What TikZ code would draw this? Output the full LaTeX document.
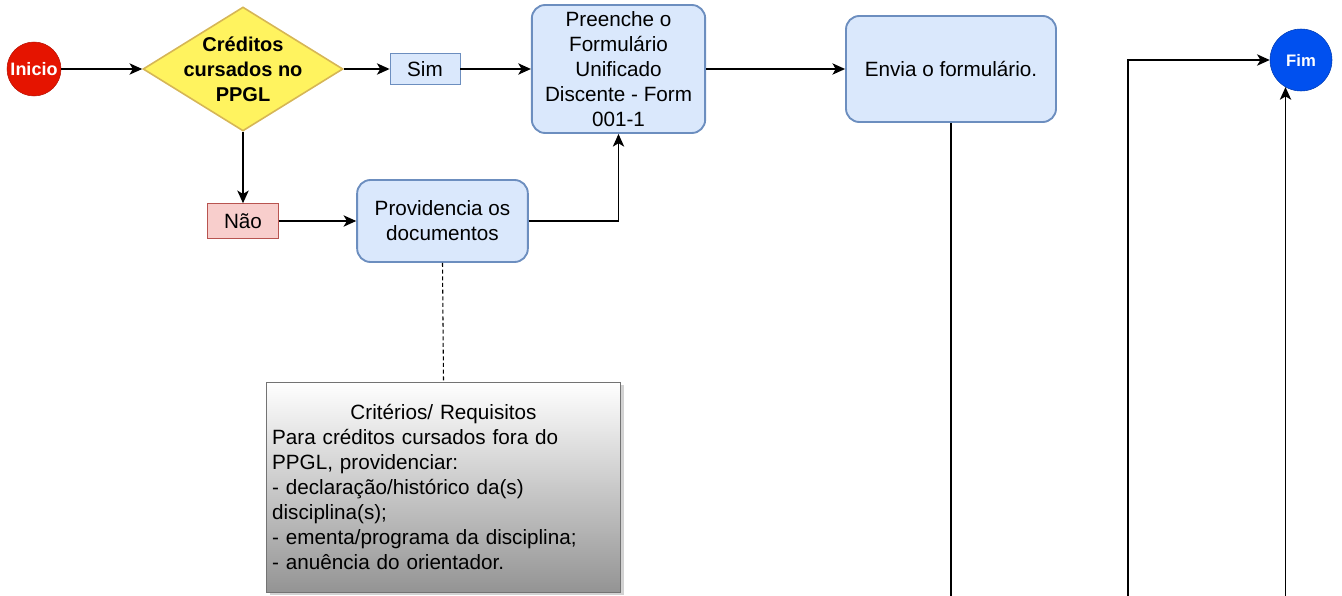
\documentclass[tikz,border=0pt]{standalone}
\usepackage{fontspec}
\setmainfont{Liberation Sans}
\usetikzlibrary{arrows.meta,shapes.geometric,shadows}

\definecolor{azulcx}{HTML}{DAE8FC}
\definecolor{azulborda}{HTML}{6C8EBF}
\definecolor{rosacx}{HTML}{F8CECC}
\definecolor{rosaborda}{HTML}{B85450}
\definecolor{amarelocx}{HTML}{FFF35F}
\definecolor{amareloborda}{HTML}{D6B656}
\definecolor{vermelho}{HTML}{E51400}
\definecolor{azulfim}{HTML}{0050EF}

\begin{document}
\begin{tikzpicture}[x=0.75pt,y=-0.75pt,
    every node/.style={font=\fontsize{15.5}{18.75}\selectfont},
    caixa/.style={draw=azulborda, fill=azulcx, line width=1.4pt, rounded corners=10pt, align=center},
    rotulo/.style={draw=#1borda, fill=#1cx, line width=0.6pt, minimum height=23pt},
    seta/.style={-{Stealth[length=9.5pt,width=8.5pt,inset=2.5pt]}, line width=1pt},
    linha/.style={line width=1pt}]
  \useasboundingbox (0,0) rectangle (1342,596);

  % Inicio e decisao
  \node[circle, fill=vermelho, draw=vermelho!80!black, minimum size=40.5pt, inner sep=0pt,
        text=white, font=\fontsize{13.5}{15}\selectfont\bfseries] (inicio) at (34,69) {Inicio};
  \node[diamond, fill=amarelocx, draw=amareloborda, line width=1.2pt, minimum width=150pt,
        minimum height=93pt, inner sep=0pt,
        label={[align=center, font=\fontsize{15}{18.75}\selectfont\bfseries]center:Créditos\\cursados no\\PPGL}] (dec) at (243,69) {};

  % Sim / Nao
  \node[rotulo=azul, minimum width=52.5pt] (sim) at (425,69) {Sim};
  \node[rotulo=rosa, minimum width=53pt, minimum height=26pt] (nao) at (243,221) {Não};

  % Caixas do processo
  \node[caixa, minimum width=130pt, minimum height=96pt] (preenche) at (618.5,69)
    {Preenche o\\Formulário\\Unificado\\Discente - Form\\001-1};
  \node[caixa, minimum width=157.5pt, minimum height=79.5pt] (envia) at (951,69) {Envia o formulário.};
  \node[caixa, minimum width=128pt, minimum height=61.5pt] (prov) at (442.5,221) {Providencia os\\documentos};

  % Nota
  \node[draw=black!55, top color=white, bottom color=black!42, line width=0.6pt,
        drop shadow={shadow xshift=2.5pt, shadow yshift=-2.5pt, fill=black!35},
        minimum width=265pt, minimum height=157.5pt, text width=257pt, inner sep=3pt,
        align=left] (nota) at (443.5,487)
    {\makebox[\linewidth]{Critérios/ Requisitos}\\
     Para créditos cursados fora do\\
     PPGL, providenciar:\\
     - declaração/histórico da(s)\\
     disciplina(s);\\
     - ementa/programa da disciplina;\\
     - anuência do orientador.};

  % Fim
  \node[circle, fill=azulfim, draw=azulfim!75!black, minimum size=46.5pt, inner sep=0pt,
        text=white, font=\fontsize{12.5}{14}\selectfont\bfseries] (fim) at (1301,60) {Fim};

  % pontas soltas
  \coordinate (c1) at (951,596);
  \coordinate (c2) at (1128,596);
  \coordinate (c3) at (1285.5,596);

  % Ligacoes
  \draw[seta] (inicio) -- (dec);
  \draw[seta] (dec.east) -- (sim.west);
  \draw[seta] (sim) -- (preenche);
  \draw[seta] (preenche) -- (envia);
  \draw[seta] (dec.south) -- (nao.north);
  \draw[seta] (nao) -- (prov);
  \draw[seta] (prov.east) -| (preenche.south);
  \draw[dashed, line width=0.8pt, dash pattern=on 3pt off 2pt] (prov.south) -- (nota.north);
  \draw[linha] (envia.south) -- (c1);
  \draw[seta] (c2) |- (fim.west);
  \draw[seta] (c3) -- (c3 |- fim.240);
\end{tikzpicture}
\end{document}
